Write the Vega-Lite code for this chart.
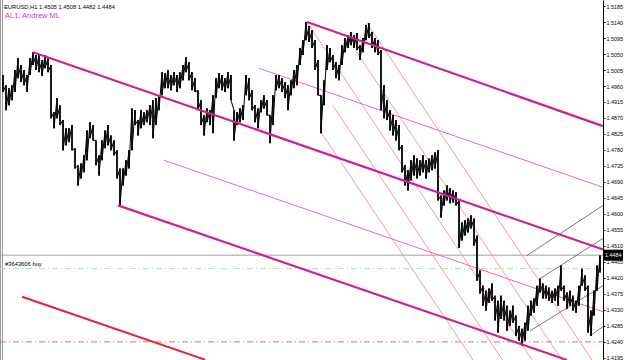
{
 "$schema": "https://vega.github.io/schema/vega-lite/v6.json",
 "width": 603, "height": 360,
 "autosize": {"type": "none"},
 "padding": {"left": 0, "top": 0, "right": 22, "bottom": 0},
 "background": "white",
 "view": {"stroke": null},
 "config": {"axis": {"grid": false}, "text": {"font": "Liberation Sans"}},
 "datasets": {
  "bars": [
   {"t":3,"p":1.4991,"l":1.4943},{"t":6,"p":1.4962,"l":1.4892},{"t":9,"p":1.4954,"l":1.4906},{"t":12,"p":1.4962,"l":1.4920},{"t":15,"p":1.5005,"l":1.4943},{"t":18,"p":1.5038,"l":1.4982},{"t":21,"p":1.5019,"l":1.4971},{"t":24,"p":1.5005,"l":1.4962},{"t":27,"p":1.4991,"l":1.4943},{"t":30,"p":1.5038,"l":1.4991},
   {"t":33,"p":1.5055,"l":1.5019},{"t":36,"p":1.5047,"l":1.5005},{"t":39,"p":1.5047,"l":1.4999},{"t":42,"p":1.5033,"l":1.4988},{"t":45,"p":1.5047,"l":1.5010},{"t":48,"p":1.5038,"l":1.4999},{"t":51,"p":1.5019,"l":1.4869},{"t":54,"p":1.4886,"l":1.4841},{"t":57,"p":1.4926,"l":1.4869},{"t":60,"p":1.4906,"l":1.4850},
   {"t":63,"p":1.4864,"l":1.4779},{"t":66,"p":1.4841,"l":1.4793},{"t":69,"p":1.4841,"l":1.4802},{"t":72,"p":1.4850,"l":1.4779},{"t":75,"p":1.4785,"l":1.4728},{"t":78,"p":1.4737,"l":1.4680},{"t":81,"p":1.4742,"l":1.4700},{"t":84,"p":1.4765,"l":1.4717},{"t":87,"p":1.4835,"l":1.4751},{"t":90,"p":1.4858,"l":1.4813},
   {"t":93,"p":1.4850,"l":1.4807},{"t":96,"p":1.4807,"l":1.4737},{"t":99,"p":1.4765,"l":1.4708},{"t":102,"p":1.4807,"l":1.4751},{"t":105,"p":1.4835,"l":1.4785},{"t":108,"p":1.4850,"l":1.4793},{"t":111,"p":1.4821,"l":1.4779},{"t":114,"p":1.4807,"l":1.4765},{"t":117,"p":1.4779,"l":1.4700},{"t":120,"p":1.4728,"l":1.4624},
   {"t":123,"p":1.4728,"l":1.4680},{"t":126,"p":1.4751,"l":1.4708},{"t":129,"p":1.4779,"l":1.4728},{"t":132,"p":1.4897,"l":1.4779},{"t":135,"p":1.4892,"l":1.4850},{"t":138,"p":1.4864,"l":1.4821},{"t":141,"p":1.4892,"l":1.4841},{"t":144,"p":1.4886,"l":1.4850},{"t":147,"p":1.4892,"l":1.4858},{"t":150,"p":1.4906,"l":1.4850},
   {"t":153,"p":1.4920,"l":1.4813},{"t":156,"p":1.4926,"l":1.4850},{"t":159,"p":1.4934,"l":1.4892},{"t":162,"p":1.4999,"l":1.4934},{"t":165,"p":1.4996,"l":1.4954},{"t":168,"p":1.5005,"l":1.4954},{"t":171,"p":1.4991,"l":1.4948},{"t":174,"p":1.4999,"l":1.4962},{"t":177,"p":1.4991,"l":1.4943},{"t":180,"p":1.4999,"l":1.4954},
   {"t":183,"p":1.5019,"l":1.4976},{"t":186,"p":1.5041,"l":1.4999},{"t":189,"p":1.5027,"l":1.4976},{"t":192,"p":1.4999,"l":1.4948},{"t":195,"p":1.4982,"l":1.4943},{"t":198,"p":1.4948,"l":1.4892},{"t":201,"p":1.4920,"l":1.4850},{"t":204,"p":1.4878,"l":1.4821},{"t":207,"p":1.4897,"l":1.4858},{"t":210,"p":1.4892,"l":1.4850},
   {"t":213,"p":1.4934,"l":1.4827},{"t":216,"p":1.4982,"l":1.4926},{"t":219,"p":1.4996,"l":1.4954},{"t":222,"p":1.4991,"l":1.4948},{"t":225,"p":1.4982,"l":1.4943},{"t":228,"p":1.4999,"l":1.4954},{"t":231,"p":1.4991,"l":1.4920},{"t":234,"p":1.4892,"l":1.4807},{"t":237,"p":1.4886,"l":1.4850},{"t":240,"p":1.4897,"l":1.4858},
   {"t":243,"p":1.4906,"l":1.4864},{"t":246,"p":1.4991,"l":1.4934},{"t":249,"p":1.4982,"l":1.4920},{"t":252,"p":1.4948,"l":1.4892},{"t":255,"p":1.4906,"l":1.4858},{"t":258,"p":1.4897,"l":1.4841},{"t":261,"p":1.4920,"l":1.4886},{"t":264,"p":1.4934,"l":1.4897},{"t":267,"p":1.4920,"l":1.4878},{"t":270,"p":1.4878,"l":1.4799},
   {"t":273,"p":1.4934,"l":1.4850},{"t":276,"p":1.4991,"l":1.4948},{"t":279,"p":1.4991,"l":1.4954},{"t":282,"p":1.4982,"l":1.4943},{"t":285,"p":1.4971,"l":1.4926},{"t":288,"p":1.4962,"l":1.4892},{"t":291,"p":1.4976,"l":1.4934},{"t":294,"p":1.5005,"l":1.4954},{"t":297,"p":1.5019,"l":1.4962},{"t":300,"p":1.5067,"l":1.5019},
   {"t":303,"p":1.5089,"l":1.5047},{"t":306,"p":1.5140,"l":1.5089},{"t":309,"p":1.5129,"l":1.5084},{"t":312,"p":1.5117,"l":1.5067},{"t":315,"p":1.5089,"l":1.5005},{"t":318,"p":1.5033,"l":1.4934},{"t":321,"p":1.4934,"l":1.4827},{"t":324,"p":1.4976,"l":1.4906},{"t":327,"p":1.5075,"l":1.5005},{"t":330,"p":1.5067,"l":1.5027},
   {"t":333,"p":1.5047,"l":1.5005},{"t":336,"p":1.5027,"l":1.4982},{"t":339,"p":1.5019,"l":1.4976},{"t":342,"p":1.5075,"l":1.5019},{"t":345,"p":1.5095,"l":1.5055},{"t":348,"p":1.5103,"l":1.5067},{"t":351,"p":1.5112,"l":1.5075},{"t":354,"p":1.5103,"l":1.5067},{"t":357,"p":1.5109,"l":1.5061},{"t":360,"p":1.5075,"l":1.5033},
   {"t":363,"p":1.5095,"l":1.5055},{"t":366,"p":1.5132,"l":1.5089},{"t":369,"p":1.5137,"l":1.5095},{"t":372,"p":1.5112,"l":1.5067},{"t":375,"p":1.5095,"l":1.5055},{"t":378,"p":1.5089,"l":1.5047},{"t":381,"p":1.5061,"l":1.4892},{"t":384,"p":1.4962,"l":1.4869},{"t":387,"p":1.4920,"l":1.4864},{"t":390,"p":1.4892,"l":1.4835},
   {"t":393,"p":1.4878,"l":1.4821},{"t":396,"p":1.4864,"l":1.4807},{"t":399,"p":1.4850,"l":1.4779},{"t":402,"p":1.4793,"l":1.4717},{"t":405,"p":1.4737,"l":1.4680},{"t":408,"p":1.4723,"l":1.4666},{"t":411,"p":1.4751,"l":1.4694},{"t":414,"p":1.4765,"l":1.4708},{"t":417,"p":1.4756,"l":1.4700},{"t":420,"p":1.4751,"l":1.4708},
   {"t":423,"p":1.4765,"l":1.4717},{"t":426,"p":1.4751,"l":1.4700},{"t":429,"p":1.4756,"l":1.4717},{"t":432,"p":1.4765,"l":1.4723},{"t":435,"p":1.4773,"l":1.4728},{"t":438,"p":1.4779,"l":1.4638},{"t":441,"p":1.4652,"l":1.4590},{"t":444,"p":1.4666,"l":1.4624},{"t":447,"p":1.4680,"l":1.4638},{"t":450,"p":1.4672,"l":1.4630},
   {"t":453,"p":1.4666,"l":1.4632},{"t":456,"p":1.4661,"l":1.4624},{"t":459,"p":1.4638,"l":1.4505},{"t":462,"p":1.4576,"l":1.4525},{"t":465,"p":1.4582,"l":1.4539},{"t":468,"p":1.4587,"l":1.4548},{"t":471,"p":1.4596,"l":1.4559},{"t":474,"p":1.4587,"l":1.4511},{"t":477,"p":1.4539,"l":1.4412},{"t":480,"p":1.4441,"l":1.4376},
   {"t":483,"p":1.4398,"l":1.4342},{"t":486,"p":1.4384,"l":1.4328},{"t":489,"p":1.4390,"l":1.4350},{"t":492,"p":1.4404,"l":1.4356},{"t":495,"p":1.4370,"l":1.4300},{"t":498,"p":1.4356,"l":1.4266},{"t":501,"p":1.4370,"l":1.4305},{"t":504,"p":1.4356,"l":1.4300},{"t":507,"p":1.4342,"l":1.4271},{"t":510,"p":1.4328,"l":1.4285},
   {"t":513,"p":1.4342,"l":1.4294},{"t":516,"p":1.4314,"l":1.4257},{"t":519,"p":1.4285,"l":1.4243},{"t":522,"p":1.4277,"l":1.4229},{"t":525,"p":1.4294,"l":1.4243},{"t":528,"p":1.4342,"l":1.4271},{"t":531,"p":1.4356,"l":1.4314},{"t":534,"p":1.4362,"l":1.4322},{"t":537,"p":1.4398,"l":1.4342},{"t":540,"p":1.4418,"l":1.4379},
   {"t":543,"p":1.4404,"l":1.4362},{"t":546,"p":1.4398,"l":1.4362},{"t":549,"p":1.4393,"l":1.4356},{"t":552,"p":1.4384,"l":1.4350},{"t":555,"p":1.4390,"l":1.4356},{"t":558,"p":1.4398,"l":1.4342},{"t":561,"p":1.4455,"l":1.4384},{"t":564,"p":1.4398,"l":1.4356},{"t":567,"p":1.4379,"l":1.4333},{"t":570,"p":1.4384,"l":1.4342},
   {"t":573,"p":1.4370,"l":1.4328},{"t":576,"p":1.4356,"l":1.4322},{"t":579,"p":1.4398,"l":1.4342},{"t":582,"p":1.4446,"l":1.4398},{"t":585,"p":1.4427,"l":1.4384},{"t":588,"p":1.4398,"l":1.4266},{"t":591,"p":1.4328,"l":1.4257},{"t":594,"p":1.4384,"l":1.4314},{"t":597,"p":1.4455,"l":1.4384},{"t":600,"p":1.4483,"l":1.4435}
  ],
  "lines": [
   {"g":"m","id":"m1","t":33,"p":1.5055},{"g":"m","id":"m1","t":603,"p":1.4500},
   {"g":"m","id":"m2","t":307,"p":1.5140},{"g":"m","id":"m2","t":603,"p":1.4847},
   {"g":"m","id":"m3","t":118,"p":1.4624},{"g":"m","id":"m3","t":567,"p":1.4189},
   {"g":"r","id":"r1","t":22,"p":1.4367},{"g":"r","id":"r1","t":205,"p":1.4190},
   {"g":"pk","id":"t1","t":259,"p":1.5010},{"g":"pk","id":"t1","t":603,"p":1.4675},
   {"g":"pk","id":"t2","t":164,"p":1.4751},{"g":"pk","id":"t2","t":603,"p":1.4325},
   {"g":"s","id":"s1","t":307,"p":1.5140},{"g":"s","id":"s1","t":532,"p":1.4189},
   {"g":"s","id":"s2","t":321,"p":1.4830},{"g":"s","id":"s2","t":473,"p":1.4189},
   {"g":"s","id":"s3","t":367,"p":1.5137},{"g":"s","id":"s3","t":592,"p":1.4189},
   {"g":"s","id":"s4","t":332.5,"p":1.4906},{"g":"s","id":"s4","t":502.5,"p":1.4189},
   {"g":"s","id":"s5","t":355.5,"p":1.5060},{"g":"s","id":"s5","t":562,"p":1.4189},
   {"g":"gy","id":"g1","t":527,"p":1.4483},{"g":"gy","id":"g1","t":603,"p":1.4624},
   {"g":"gy","id":"g2","t":540,"p":1.4418},{"g":"gy","id":"g2","t":603,"p":1.4531},
   {"g":"gy","id":"g3","t":530,"p":1.4271},{"g":"gy","id":"g3","t":603,"p":1.4398},
   {"g":"gy","id":"g4","t":590,"p":1.4257},{"g":"gy","id":"g4","t":603,"p":1.4283}
  ],
  "levels": [
   {"k":"cur","t":0,"t2":603,"p":1.4484},
   {"k":"buy","t":0,"t2":603,"p":1.4446},
   {"k":"sl","t":0,"t2":603,"p":1.4240}
  ]
 },
 "encoding": {
  "x": {"field": "t", "type": "quantitative", "scale": {"domain": [0, 603], "nice": false, "zero": false}, "axis": null},
  "y": {"field": "p", "type": "quantitative", "title": null, "scale": {"domain": [1.4189, 1.5202], "nice": false, "zero": false},
   "axis": {"orient": "right", "values": [1.5185,1.5140,1.5095,1.5050,1.5005,1.4960,1.4915,1.4870,1.4825,1.4780,1.4735,1.4690,1.4645,1.4600,1.4555,1.4510,1.4465,1.4420,1.4375,1.4330,1.4285,1.4240,1.4195],
    "format": ".4f", "labelFont": "Liberation Sans", "labelFontSize": 5.4, "labelColor": "#000000", "tickSize": 2, "tickColor": "#000000", "domainColor": "#000000", "labelPadding": 1, "labelOverlap": false, "labelBound": false, "labelFlush": false}}
 },
 "layer": [
  {"data": {"values": [{"t": 0.5, "p": 1.5202, "l": 1.4189}, {"t": 2.5, "p": 1.5202, "l": 1.4189}]}, "mark": {"type": "rule", "color": "#9a9a9a", "strokeWidth": 1},
   "encoding": {"y2": {"field": "l"}}},
  {"data": {"name": "levels"}, "transform": [{"filter": "datum.k == 'cur'"}], "mark": {"type": "rule", "color": "#a0a0a0", "strokeWidth": 1},
   "encoding": {"x2": {"field": "t2"}}},
  {"data": {"name": "levels"}, "transform": [{"filter": "datum.k == 'buy'"}], "mark": {"type": "rule", "color": "#a6e6a6", "strokeWidth": 1, "strokeDash": [6, 3, 1, 3]},
   "encoding": {"x2": {"field": "t2"}}},
  {"data": {"name": "levels"}, "transform": [{"filter": "datum.k == 'sl'"}], "mark": {"type": "rule", "color": "#e86a6a", "strokeWidth": 1, "strokeDash": [6, 3, 1, 3]},
   "encoding": {"x2": {"field": "t2"}}},
  {"data": {"name": "lines"}, "transform": [{"filter": "datum.g == 's'"}], "mark": {"type": "line", "color": "#f4909c", "strokeWidth": 0.9},
   "encoding": {"detail": {"field": "id"}}},
  {"data": {"name": "lines"}, "transform": [{"filter": "datum.g == 'pk'"}], "mark": {"type": "line", "color": "#e866c4", "strokeWidth": 1},
   "encoding": {"detail": {"field": "id"}}},
  {"data": {"name": "lines"}, "transform": [{"filter": "datum.g == 'gy'"}], "mark": {"type": "line", "color": "#555555", "strokeWidth": 0.8},
   "encoding": {"detail": {"field": "id"}}},
  {"data": {"name": "bars"}, "mark": {"type": "rule", "color": "#000000", "strokeWidth": 1.6},
   "encoding": {"y2": {"field": "l"}}},
  {"data": {"name": "bars"}, "transform": [{"fold": ["p", "l"], "as": ["k", "v"]}], "mark": {"type": "line", "color": "#000000", "strokeWidth": 1},
   "encoding": {"y": {"field": "v", "type": "quantitative", "title": null}, "order": {"value": null}}},
  {"data": {"name": "lines"}, "transform": [{"filter": "datum.g == 'm'"}], "mark": {"type": "line", "color": "#d0208f", "strokeWidth": 2.2},
   "encoding": {"detail": {"field": "id"}}},
  {"data": {"name": "lines"}, "transform": [{"filter": "datum.g == 'r'"}], "mark": {"type": "line", "color": "#e8203a", "strokeWidth": 2},
   "encoding": {"detail": {"field": "id"}}},
  {"data": {"values": [{"t": 603.5, "t2": 623, "p": 1.44995, "l": 1.44685}]}, "mark": {"type": "rect", "color": "#000000"},
   "encoding": {"x2": {"field": "t2"}, "y2": {"field": "l"}}},
  {"data": {"values": [{"t": 613.3, "p": 1.4484, "s": "1.4484"}]}, "mark": {"type": "text", "color": "#ffffff", "fontSize": 5.4, "align": "center", "baseline": "middle"},
   "encoding": {"text": {"field": "s"}}},
  {"data": {"values": [{"t": 4, "p": 1.5183, "s": "EURUSD,H1  1.4505 1.4508 1.4482 1.4484"}, {"t": 5, "p": 1.4458, "s": "#3643606 buy"}]}, "mark": {"type": "text", "color": "#000000", "fontSize": 5.8, "align": "left", "baseline": "middle"},
   "encoding": {"text": {"field": "s"}}},
  {"data": {"values": [{"t": 5, "p": 1.5157, "s": "AL1: Andrew ML"}]}, "mark": {"type": "text", "color": "#d43bb0", "fontSize": 7.5, "align": "left", "baseline": "middle"},
   "encoding": {"text": {"field": "s"}}}
 ]
}
